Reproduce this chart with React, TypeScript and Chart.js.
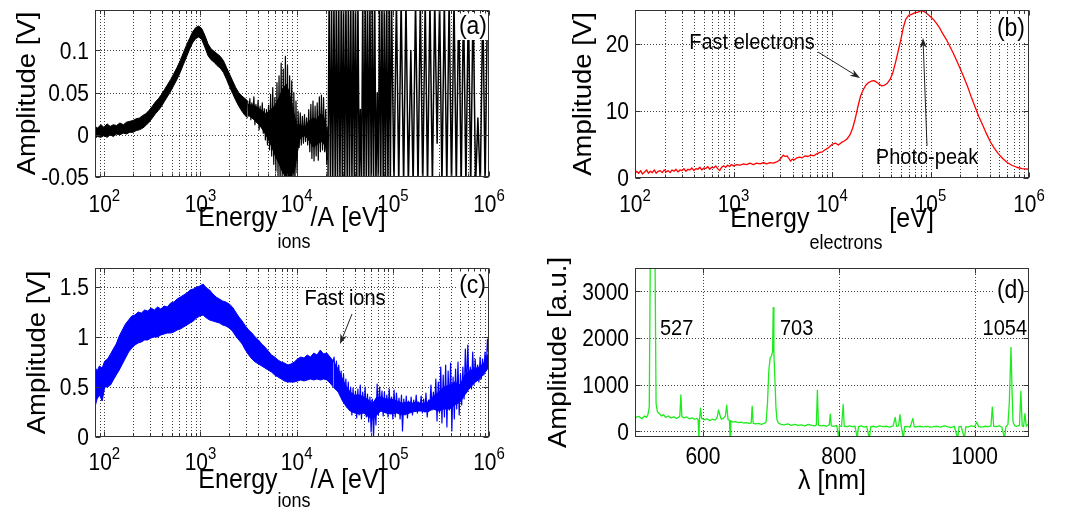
import React, { useEffect, useRef } from "react";
import { Chart, registerables } from "chart.js";

Chart.register(...registerables);

const FONT = '"Liberation Sans", Arimo, Arial, Helvetica, sans-serif';
const GRID_COLOR = "rgba(30,30,30,0.85)";
const FRAME_COLOR = "#333";
const TICK_PX = 21;
const SUP_PX = 15;
const TITLE_PX = 25;
const SUBTITLE_PX = 18;
const NOTE_PX = 20;
const LETTER_PX = 23;
const VSTRETCH = 1.1;

// ---------------- panel (a): ion spectrum, [E, upper, lower] ----------------
const aBand: number[][] = [
  [80, 0.010, -0.004], [85, 0.008, -0.002], [92, 0.012, -0.003], [99, 0.009, -0.001],
  [107, 0.013, -0.003], [115, 0.010, 0.000], [124, 0.012, -0.002], [134, 0.011, 0.001],
  [145, 0.014, 0.000], [158, 0.012, 0.002], [170, 0.015, 0.001], [184, 0.016, 0.003],
  [199, 0.017, 0.003], [214, 0.019, 0.005], [232, 0.020, 0.006], [251, 0.023, 0.008],
  [270, 0.025, 0.011], [292, 0.029, 0.015], [316, 0.034, 0.020], [340, 0.039, 0.025],
  [366, 0.043, 0.029], [394, 0.048, 0.034], [424, 0.054, 0.040], [457, 0.060, 0.046],
  [492, 0.066, 0.052], [530, 0.073, 0.059], [571, 0.080, 0.066], [615, 0.088, 0.074],
  [662, 0.097, 0.083], [713, 0.106, 0.092], [768, 0.114, 0.101], [827, 0.122, 0.109],
  [890, 0.127, 0.114], [958, 0.129, 0.116], [1031, 0.126, 0.113], [1110, 0.118, 0.104],
  [1196, 0.108, 0.094], [1287, 0.102, 0.089], [1386, 0.099, 0.086], [1492, 0.096, 0.082],
  [1607, 0.093, 0.079], [1730, 0.088, 0.074], [1862, 0.080, 0.066], [2005, 0.072, 0.057],
  [2159, 0.064, 0.049], [2325, 0.056, 0.041], [2503, 0.050, 0.034], [2695, 0.046, 0.028],
  [2902, 0.043, 0.023], [3100, 0.040, 0.020],
];
// dense core of the noisy part [E, upper, lower]
const aNoiseCore: number[][] = [
  [3100, 0.036, 0.024], [3600, 0.035, 0.018], [4200, 0.030, 0.010], [4800, 0.025, 0.000],
  [5400, 0.030, -0.012], [6000, 0.035, -0.025], [6600, 0.045, -0.035], [7200, 0.055, -0.045],
  [7800, 0.060, -0.050], [8400, 0.050, -0.050], [9000, 0.035, -0.050], [9600, 0.020, -0.040],
  [10200, 0.010, -0.020], [10800, 0.012, -0.005], [11500, 0.010, -0.002], [12300, 0.010, -0.001],
  [13100, 0.015, -0.005], [14000, 0.018, -0.010], [15000, 0.020, -0.015], [16000, 0.018, -0.012],
  [17000, 0.022, -0.010], [18000, 0.025, -0.008], [19000, 0.022, -0.010], [20000, 0.012, -0.015],
  [21000, 0.000, -0.030],
];
const aNoise: number[][] = [
  [3100, 0.040], [3180, 0.022], [3260, 0.043], [3340, 0.018], [3420, 0.038], [3500, 0.021],
  [3590, 0.045], [3680, 0.012], [3770, 0.036], [3870, 0.015], [3970, 0.041], [4070, 0.006],
  [4170, 0.034], [4280, 0.010], [4390, 0.038], [4500, 0.002], [4610, 0.031], [4730, -0.006],
  [4850, 0.030], [4970, -0.012], [5100, 0.035], [5230, -0.018], [5360, 0.048], [5500, -0.025],
  [5640, 0.056], [5780, -0.035], [5930, 0.044], [6080, -0.043], [6240, 0.062], [6400, -0.05],
  [6560, 0.070], [6730, -0.06], [6900, 0.085], [7080, -0.06], [7260, 0.078], [7450, -0.06],
  [7640, 0.093], [7830, -0.06], [8030, 0.082], [8240, -0.06], [8450, 0.070], [8670, -0.06],
  [8890, 0.064], [9120, -0.06], [9350, 0.050], [9590, -0.06], [9840, 0.040], [10100, -0.045],
  [10350, 0.028], [10620, -0.015], [10900, 0.026], [11180, -0.012], [11470, 0.022], [11760, -0.010],
  [12060, 0.024], [12370, -0.008], [12690, 0.020], [13020, -0.012], [13350, 0.030], [13700, -0.020],
  [14050, 0.036], [14410, -0.028], [14780, 0.040], [15160, -0.031], [15550, 0.034], [15950, -0.025],
  [16360, 0.038], [16780, -0.030], [17210, 0.045], [17650, -0.020], [18100, 0.047], [18570, -0.018],
  [19050, 0.044], [19540, -0.020], [20040, 0.030], [20550, -0.035], [21080, 0.010],
];
const aSpikes: number[][] = [
  [21150, -0.06], [21760, 0.16], [22450, -0.06], [23060, 0.16], [23730, -0.06], [24420, 0.16],
  [25190, -0.06], [25860, 0.16], [26620, -0.06], [27390, 0.16], [28190, -0.06], [29080, 0.16],
  [29860, -0.06], [30730, 0.16], [31620, -0.06], [32540, 0.16], [33570, -0.06], [34470, 0.16],
  [35470, -0.06], [36510, 0.16], [37570, -0.06], [38760, 0.16], [39790, -0.06], [40950, 0.16],
  [42140, -0.06], [43370, 0.16], [44740, -0.06], [45940, 0.03], [47270, -0.06], [48650, 0.16],
  [50070, -0.06], [51650, 0.16], [53030, -0.06], [54580, 0.16], [56170, -0.06], [57810, 0.16],
  [59630, -0.06], [61220, 0.16], [63010, -0.06], [64850, 0.16], [66730, -0.06], [68840, 0.05],
  [70680, -0.06], [72730, 0.16], [74850, -0.06], [77030, 0.16], [79460, -0.06], [81580, 0.16],
  [83960, -0.06], [86410, 0.16], [88930, -0.06], [91740, 0.16], [94190, -0.06], [96940, 0.16],
  [102700, -0.06], [109000, 0.16], [115200, -0.06], [122000, 0.16], [129500, -0.06], [136900, 0.16],
  [145000, -0.06], [153900, 0.10], [162600, -0.06], [172200, 0.16], [182800, -0.06], [193200, 0.16],
  [204600, -0.06], [217200, 0.16], [229500, -0.06], [243100, 0.16], [258000, -0.06], [272700, 0.16],
  [288800, -0.01], [306600, 0.16], [324000, -0.06], [343100, 0.16], [364200, -0.06], [384800, 0.16],
  [407600, -0.06], [432700, 0.16], [457200, -0.06], [484200, 0.16], [514000, -0.06], [543100, 0.16],
  [575200, -0.06], [610600, 0.16], [645200, -0.06], [683300, 0.16], [725400, -0.06], [766500, 0.02],
  [811900, -0.06], [861900, 0.16], [911000, -0.06], [964700, 0.16],
];

// ---------------- panel (b): electron spectrum [E, V] ----------------
const bCurve: number[][] = [
  [100, 0.6], [104, 1.0], [109, 0.7], [114, 1.1], [119, 0.6], [125, 0.9], [131, 1.2], [137, 0.7],
  [143, 1.0], [150, 0.8], [157, 1.2], [164, 0.7], [172, 1.0], [180, 1.1], [189, 0.8], [198, 1.2],
  [207, 0.9], [217, 1.1], [227, 0.8], [238, 1.2], [249, 1.0], [261, 1.3], [273, 0.9], [286, 1.2],
  [300, 1.1], [314, 1.4], [329, 1.0], [345, 1.3], [361, 1.2], [378, 1.5], [396, 1.1], [415, 1.4],
  [435, 1.3], [455, 1.6], [477, 1.2], [500, 1.5], [523, 1.4], [548, 1.7], [574, 1.3], [601, 1.6],
  [630, 1.5], [660, 1.8], [691, 1.4], [724, 1.1], [758, 1.6], [794, 1.8], [832, 1.6], [871, 1.9],
  [912, 1.7], [955, 2.0], [1000, 1.8], [1080, 2.0], [1170, 1.9], [1260, 2.1], [1360, 2.0], [1470, 2.2],
  [1590, 2.0], [1720, 2.2], [1860, 2.1], [2010, 2.3], [2170, 2.1], [2350, 2.3], [2540, 2.2], [2740, 2.4],
  [2900, 2.6], [3050, 3.0], [3200, 3.4], [3350, 3.2], [3500, 3.3], [3650, 2.9], [3800, 2.5], [3950, 2.8],
  [4150, 2.7], [4400, 3.0], [4700, 3.1], [5000, 3.0], [5350, 3.3], [5700, 3.2], [6100, 3.4], [6550, 3.3],
  [7000, 3.6], [7500, 3.8], [8000, 3.9], [8500, 4.2], [9000, 4.4], [9500, 4.7], [10000, 5.0], [10800, 5.2],
  [11600, 4.9], [12500, 5.3], [13300, 5.5], [14200, 5.8], [15200, 6.4], [16200, 7.4], [17200, 8.8],
  [18300, 10.6], [19500, 12.2], [20700, 13.1], [22000, 13.8], [23500, 14.2], [25000, 14.4], [26600, 14.5],
  [28200, 14.3], [30000, 14.0], [32000, 13.7], [34000, 13.8], [36500, 14.1], [39000, 14.7], [41500, 15.7],
  [44000, 17.1], [47000, 18.9], [50000, 20.6], [53000, 22.4], [56000, 23.6], [60000, 24.2], [65000, 24.4],
  [70000, 24.6], [75000, 24.7], [80000, 24.9], [85000, 24.8], [90000, 24.6], [95000, 24.3], [100000, 24.0],
  [107000, 23.6], [115000, 23.0], [124000, 22.3], [134000, 21.4], [145000, 20.6], [157000, 19.6],
  [170000, 18.6], [185000, 17.4], [200000, 16.3], [218000, 15.0], [238000, 13.6], [260000, 12.0],
  [285000, 10.5], [310000, 9.1], [340000, 7.8], [370000, 6.6], [405000, 5.4], [445000, 4.4], [490000, 3.6],
  [540000, 2.9], [600000, 2.3], [670000, 1.9], [750000, 1.6], [850000, 1.4], [1000000, 1.3],
];

// ---------------- panel (c): fast ions [E, upper, lower] then noisy tail ----------------
const cBand: number[][] = [
  [80, 0.70, 0.30], [84, 0.66, 0.38], [89, 0.71, 0.42], [95, 0.69, 0.36], [101, 0.76, 0.50],
  [108, 0.78, 0.50], [116, 0.83, 0.52], [124, 0.88, 0.57], [133, 0.93, 0.62], [143, 1.01, 0.67],
  [154, 1.07, 0.73], [166, 1.13, 0.79], [179, 1.17, 0.85], [193, 1.21, 0.89], [208, 1.22, 0.92],
  [225, 1.25, 0.94], [243, 1.24, 0.95], [262, 1.27, 0.97], [283, 1.26, 0.97], [306, 1.29, 0.99],
  [331, 1.27, 1.00], [358, 1.30, 1.00], [387, 1.28, 1.02], [418, 1.31, 1.03], [452, 1.30, 1.04],
  [489, 1.34, 1.04], [529, 1.35, 1.05], [572, 1.38, 1.07], [618, 1.40, 1.08], [668, 1.42, 1.10],
  [722, 1.44, 1.12], [780, 1.47, 1.14], [843, 1.48, 1.16], [911, 1.50, 1.19], [985, 1.51, 1.21],
  [1065, 1.53, 1.22], [1151, 1.49, 1.19], [1244, 1.47, 1.17], [1345, 1.43, 1.16], [1454, 1.40, 1.15],
  [1572, 1.38, 1.14], [1699, 1.36, 1.12], [1837, 1.35, 1.11], [1986, 1.33, 1.09], [2147, 1.30, 1.06],
  [2321, 1.25, 1.01], [2509, 1.20, 0.97], [2712, 1.16, 0.93], [2932, 1.11, 0.87], [3170, 1.07, 0.82],
  [3427, 1.04, 0.78], [3705, 1.00, 0.75], [4005, 0.97, 0.73], [4330, 0.93, 0.71], [4681, 0.90, 0.69],
  [5060, 0.86, 0.67], [5470, 0.82, 0.65], [5914, 0.80, 0.62], [6393, 0.77, 0.60], [6911, 0.75, 0.58],
  [7471, 0.74, 0.56], [8077, 0.72, 0.55], [8732, 0.73, 0.55], [9440, 0.75, 0.55], [10205, 0.78, 0.56],
  [11032, 0.80, 0.57], [11926, 0.79, 0.56], [12893, 0.82, 0.57], [13938, 0.80, 0.58], [15068, 0.84, 0.57],
  [16289, 0.82, 0.58], [17609, 0.87, 0.57], [19036, 0.83, 0.58], [20580, 0.84, 0.57], [22248, 0.80, 0.54],
  [24051, 0.76, 0.50],
];
const cTailCore: number[][] = [
  [24051, 0.76, 0.50], [27000, 0.68, 0.45], [30000, 0.58, 0.36], [33000, 0.50, 0.30], [36000, 0.45, 0.26],
  [40000, 0.42, 0.24], [45000, 0.42, 0.23], [50000, 0.40, 0.24], [56000, 0.37, 0.20], [62000, 0.34, 0.18],
  [68000, 0.40, 0.22], [75000, 0.40, 0.26], [85000, 0.38, 0.24], [95000, 0.38, 0.23], [110000, 0.36, 0.24],
  [125000, 0.34, 0.22], [140000, 0.35, 0.23], [160000, 0.34, 0.25], [180000, 0.35, 0.26], [200000, 0.33, 0.26],
  [230000, 0.35, 0.25], [260000, 0.40, 0.28], [300000, 0.45, 0.26], [340000, 0.50, 0.28], [390000, 0.52, 0.28],
  [440000, 0.55, 0.32], [500000, 0.52, 0.35], [560000, 0.62, 0.42], [620000, 0.66, 0.48], [700000, 0.68, 0.54],
  [800000, 0.70, 0.58], [900000, 0.75, 0.64], [1000000, 0.85, 0.70],
];
const cNoise: number[][] = [
  [24051, 0.76], [24500, 0.80], [25200, 0.56], [25900, 0.76], [26600, 0.52], [27400, 0.72], [28200, 0.47],
  [29000, 0.66], [29800, 0.40], [30700, 0.63], [31600, 0.36], [32500, 0.58], [33400, 0.30], [34400, 0.55],
  [35400, 0.27], [36400, 0.50], [37500, 0.22], [38600, 0.49], [39700, 0.25], [40900, 0.46], [42100, 0.19],
  [43300, 0.48], [44600, 0.22], [45900, 0.52], [47200, 0.18], [48600, 0.45], [50000, 0.24], [51500, 0.50],
  [53000, 0.20], [54500, 0.43], [56100, 0.15], [57800, 0.40], [59500, 0.05], [61200, 0.38], [63000, 0.00],
  [64800, 0.35], [66700, 0.12], [68700, 0.53], [70700, 0.22], [72800, 0.50], [74900, 0.26], [77100, 0.46],
  [79400, 0.21], [81700, 0.45], [84100, 0.25], [86600, 0.42], [89100, 0.20], [91700, 0.48], [94400, 0.24],
  [97200, 0.40], [100000, 0.18], [103000, 0.47], [106000, 0.20], [109000, 0.44], [112000, 0.26],
  [116000, 0.39], [119000, 0.18], [123000, 0.42], [126000, 0.06], [130000, 0.38], [134000, 0.22],
  [138000, 0.41], [142000, 0.19], [146000, 0.36], [151000, 0.25], [155000, 0.40], [160000, 0.22],
  [165000, 0.37], [170000, 0.26], [175000, 0.42], [180000, 0.24], [185000, 0.35], [191000, 0.27],
  [197000, 0.41], [203000, 0.24], [209000, 0.38], [215000, 0.25], [221000, 0.44], [228000, 0.20],
  [235000, 0.37], [242000, 0.28], [249000, 0.52], [256000, 0.27], [264000, 0.45], [272000, 0.30],
  [280000, 0.58], [288000, 0.16], [297000, 0.55], [306000, 0.24], [315000, 0.70], [324000, 0.14],
  [334000, 0.62], [344000, 0.20], [354000, 0.72], [365000, 0.10], [376000, 0.66], [387000, 0.27],
  [399000, 0.74], [411000, 0.06], [423000, 0.60], [436000, 0.18], [449000, 0.68], [462000, 0.28],
  [476000, 0.75], [490000, 0.22], [505000, 0.63], [520000, 0.32], [535000, 0.70], [551000, 0.38],
  [568000, 0.88], [585000, 0.45], [602000, 0.92], [620000, 0.50], [639000, 0.70], [658000, 0.48],
  [677000, 0.85], [698000, 0.52], [718000, 0.78], [740000, 0.58], [762000, 0.72], [785000, 0.55],
  [808000, 0.80], [832000, 0.58], [857000, 0.78], [883000, 0.62], [909000, 0.85], [936000, 0.70],
  [964000, 0.98], [985000, 0.85], [1000000, 1.12],
];

// ---------------- panel (d): optical spectrum [nm, a.u.] ----------------
const dSpectrum: number[][] = [
  [500, 290], [503, 310], [506, 320], [510, 270], [514, 330], [517, 300], [519, 360], [521, 520],
  [522.5, 3700], [529.5, 3700], [531, 600], [533, 420], [536, 380], [539, 330], [542, 360], [545, 300],
  [549, 330], [553, 290], [557, 310], [561, 280], [564, 300], [566, 330], [567.5, 780], [569, 320],
  [572, 290], [576, 310], [580, 270], [584, 290], [588, 260], [591, 280], [593, 240], [594, -150],
  [595, 260], [596.5, 500], [598, 280], [602, 250], [606, 270], [610, 230], [614, 260], [618, 240],
  [621, 300], [623, 460], [625, 350], [627, 260], [630, 280], [633, 330], [635, 560], [637, 250],
  [639, 240], [640, -150], [641, 230], [644, 200], [648, 210], [652, 190], [656, 200], [660, 180],
  [664, 190], [668, 170], [671, 180], [672.5, 540], [674, 170], [678, 160], [682, 170], [686, 150],
  [690, 170], [693, 200], [695, 600], [697, 1300], [699, 1580], [701, 1620], [702.5, 1700], [703.5, 2650],
  [704.5, 1650], [706, 1100], [707.5, 500], [709, 250], [711, 180], [715, 150], [720, 140], [725, 160],
  [730, 130], [735, 150], [740, 130], [745, 140], [750, 120], [755, 150], [760, 130], [765, 120],
  [767, 140], [768.5, 880], [770, 130], [774, 120], [778, 130], [782, 110], [786, 140], [787.5, 370],
  [789, 120], [793, 110], [797, 130], [800, -150], [801, 120], [804, 110], [806.5, 580], [808, 110],
  [812, 100], [816, 120], [820, 100], [824, 110], [827, -150], [829, 100], [833, 120], [837, 90],
  [841, 110], [845, -150], [847, 100], [851, 110], [855, 90], [860, 120], [865, 100], [870, 110],
  [875, 90], [880, 120], [883, 300], [885, 110], [888, 120], [890, 360], [892, 100], [895, -150],
  [897, 100], [900, 110], [905, 90], [909, 280], [911, 100], [915, 100], [920, 110], [925, 95],
  [930, 110], [935, 90], [940, 100], [945, 110], [950, 90], [955, 120], [960, 100], [965, 80],
  [970, 110], [975, -150], [977, 100], [980, 110], [985, -150], [987, 100], [990, 90], [995, 120],
  [1000, 100], [1003, 200], [1006, 100], [1010, 90], [1015, 110], [1020, 100], [1024, 120], [1026, 520],
  [1028, 110], [1032, 100], [1036, 120], [1040, 90], [1044, -150], [1046, 100], [1049, 150], [1051, 600],
  [1053.5, 1800], [1055, 900], [1056.5, 200], [1059, 120], [1062, 110], [1066, 130], [1068, 860],
  [1070, 120], [1072, 100], [1074, 380], [1076, 110], [1080, 170],
];

// ---------------- ticks ----------------
const logExponents = [2, 3, 4, 5, 6];
const aYTicks = [-0.05, 0, 0.05, 0.1];
const aYLabels = ["-0.05", "0", "0.05", "0.1"];
const bYTicks = [0, 10, 20];
const bYLabels = ["0", "10", "20"];
const cYTicks = [0, 0.5, 1, 1.5];
const cYLabels = ["0", "0.5", "1", "1.5"];
const dYTicks = [0, 1000, 2000, 3000];
const dYLabels = ["0", "1000", "2000", "3000"];
const dXTicks = [600, 800, 1000];
const dXLabels = ["600", "800", "1000"];

function minorLogGrid(min: number, max: number): number[] {
  const out: number[] = [];
  for (let e = Math.floor(Math.log10(min)); e <= Math.ceil(Math.log10(max)); e++) {
    for (let k = 1; k <= 9; k++) {
      const v = k * Math.pow(10, e);
      if (v > min * 1.0001 && v < max * 0.9999) out.push(v);
    }
  }
  return out;
}

const pts = (rows: number[][], col = 1) => rows.map((r) => ({ x: r[0], y: r[col] }));

type Part = { t: string; sub?: boolean };
type Note = { text: string; x: number; y: number; align: CanvasTextAlign };
type Spec = {
  key: string;
  box: [number, number, number, number];
  pad: { left: number; top: number; right: number; bottom: number };
  xLog: boolean;
  xMin: number; xMax: number; yMin: number; yMax: number;
  xTickVals: number[]; xTickLabels: string[]; xGrid: number[]; xMinor: number[];
  yTickVals: number[]; yTickLabels: string[];
  xLabelBase: number;
  yTitle: string; yTitleX: number;
  xTitle: Part[]; xTitleBase: number; subDrop: number;
  letter: string; letterRight: number; letterMid: number;
  notes: Note[];
  arrows: number[][];
  makeDatasets: () => any[];
};

const line = (data: any[], color: string, width = 1, extra: any = {}) => ({
  data, borderColor: color, borderWidth: width, pointRadius: 0, fill: false,
  tension: 0, borderJoinStyle: "round", ...extra,
});

const SPECS: Spec[] = [
  {
    key: "a", box: [0, 0, 541, 256], pad: { left: 95, top: 10, right: 52, bottom: 79 },
    xLog: true, xMin: 80, xMax: 1e6, yMin: -0.05, yMax: 0.148,
    xTickVals: logExponents.map((e) => Math.pow(10, e)), xTickLabels: logExponents.map(String),
    xGrid: minorLogGrid(80, 1e6), xMinor: minorLogGrid(80, 1e6),
    yTickVals: aYTicks, yTickLabels: aYLabels, xLabelBase: 35,
    yTitle: "Amplitude [V]", yTitleX: 35,
    xTitle: [{ t: "Energy" }, { t: "ions", sub: true }, { t: "/A [eV]" }], xTitleBase: 49, subDrop: 22,
    letter: "(a)", letterRight: 487, letterMid: 26,
    notes: [], arrows: [],
    makeDatasets: () => [
      line(pts(aBand, 1), "#000"),
      line(pts(aBand, 2), "#000", 1, { fill: "-1", backgroundColor: "#000" }),
      line(pts(aNoiseCore, 1), "#000"),
      line(pts(aNoiseCore, 2), "#000", 1, { fill: "-1", backgroundColor: "#000" }),
      line(pts(aNoise), "#000", 1.2),
      line(pts(aSpikes), "#000", 1.5),
    ],
  },
  {
    key: "b", box: [541, 0, 542, 256], pad: { left: 94, top: 10, right: 54, bottom: 78 },
    xLog: true, xMin: 100, xMax: 1e6, yMin: 0, yMax: 25,
    xTickVals: logExponents.map((e) => Math.pow(10, e)), xTickLabels: logExponents.map(String),
    xGrid: minorLogGrid(100, 1e6), xMinor: minorLogGrid(100, 1e6),
    yTickVals: bYTicks, yTickLabels: bYLabels, xLabelBase: 34,
    yTitle: "Amplitude [V]", yTitleX: 591,
    xTitle: [{ t: "Energy" }, { t: "electrons", sub: true }, { t: " [eV]" }], xTitleBase: 49, subDrop: 22,
    letter: "(b)", letterRight: 1025, letterMid: 28,
    notes: [
      { text: "Fast electrons", x: 752, y: 49, align: "center" },
      { text: "Photo-peak", x: 927, y: 164, align: "center" },
    ],
    arrows: [[818, 52, 860, 78], [927, 146, 923, 38]],
    makeDatasets: () => [line(pts(bCurve), "#ff0000", 1.3)],
  },
  {
    key: "c", box: [0, 256, 541, 257], pad: { left: 95, top: 12, right: 52, bottom: 76 },
    xLog: true, xMin: 80, xMax: 1e6, yMin: 0, yMax: 1.69,
    xTickVals: logExponents.map((e) => Math.pow(10, e)), xTickLabels: logExponents.map(String),
    xGrid: minorLogGrid(80, 1e6), xMinor: minorLogGrid(80, 1e6),
    yTickVals: cYTicks, yTickLabels: cYLabels, xLabelBase: 33,
    yTitle: "Amplitude [V]", yTitleX: 45,
    xTitle: [{ t: "Energy" }, { t: "ions", sub: true }, { t: "/A [eV]" }], xTitleBase: 51, subDrop: 19,
    letter: "(c)", letterRight: 486, letterMid: 285,
    notes: [{ text: "Fast ions", x: 345, y: 305, align: "center" }],
    arrows: [[352, 314, 340, 344]],
    makeDatasets: () => [
      line(pts(cBand, 1), "#0000ff"),
      line(pts(cBand, 2), "#0000ff", 1, { fill: "-1", backgroundColor: "#0000ff" }),
      line(pts(cTailCore, 1), "#0000ff"),
      line(pts(cTailCore, 2), "#0000ff", 1, { fill: "-1", backgroundColor: "#0000ff" }),
      line(pts(cNoise), "#0000ff", 1.2),
    ],
  },
  {
    key: "d", box: [541, 256, 542, 257], pad: { left: 94, top: 12, right: 54, bottom: 76 },
    xLog: false, xMin: 500, xMax: 1080, yMin: -120, yMax: 3500,
    xTickVals: dXTicks, xTickLabels: dXLabels, xGrid: dXTicks, xMinor: [],
    yTickVals: dYTicks, yTickLabels: dYLabels, xLabelBase: 27,
    yTitle: "Amplitude [a.u.]", yTitleX: 566,
    xTitle: [{ t: "\u03bb [nm]" }], xTitleBase: 52, subDrop: 0,
    letter: "(d)", letterRight: 1025, letterMid: 290,
    notes: [
      { text: "527", x: 660, y: 335, align: "left" },
      { text: "703", x: 780, y: 335, align: "left" },
      { text: "1054", x: 1027, y: 335, align: "right" },
    ],
    arrows: [],
    makeDatasets: () => [line(pts(dSpectrum), "rgb(30,235,30)", 1.3)],
  },
];

function makeDecor(spec: Spec) {
  const font = (px: number) => `${px}px ${FONT}`;
  // draw text stretched vertically around its baseline point
  const put = (ctx: any, s: string, x: number, y: number) => {
    ctx.save();
    ctx.translate(x, y);
    ctx.scale(1, VSTRETCH);
    ctx.fillText(s, 0, 0);
    ctx.restore();
  };
  return {
    id: "decor_" + spec.key,
    beforeDatasetsDraw(chart: any) {
      const { ctx, chartArea: ca, scales } = chart;
      const xs = scales.x;
      const ys = scales.y;
      ctx.save();
      ctx.strokeStyle = GRID_COLOR;
      ctx.lineWidth = 1;
      ctx.setLineDash([1, 2]);
      ctx.beginPath();
      for (const v of spec.xGrid) {
        const px = Math.round(xs.getPixelForValue(v)) + 0.5;
        if (px <= ca.left + 1 || px >= ca.right - 1) continue;
        ctx.moveTo(px, ca.top);
        ctx.lineTo(px, ca.bottom);
      }
      for (const v of spec.yTickVals) {
        const py = Math.round(ys.getPixelForValue(v)) + 0.5;
        if (py <= ca.top + 1 || py >= ca.bottom - 1) continue;
        ctx.moveTo(ca.left, py);
        ctx.lineTo(ca.right, py);
      }
      ctx.stroke();
      ctx.restore();
    },
    afterDraw(chart: any) {
      const { ctx, chartArea: ca, scales } = chart;
      const xs = scales.x;
      const ys = scales.y;
      const ox = spec.box[0];
      const oy = spec.box[1];
      ctx.save();
      ctx.setLineDash([]);
      ctx.textBaseline = "alphabetic";

      // panel letter with white background
      ctx.font = font(LETTER_PX);
      const lw = ctx.measureText(spec.letter).width;
      const lx = spec.letterRight - ox - lw;
      const ly = spec.letterMid - oy;
      ctx.fillStyle = "#fff";
      ctx.fillRect(lx - 2, ly - 14, lw + 4, 28);
      ctx.fillStyle = "#000";
      ctx.textAlign = "left";
      put(ctx, spec.letter, lx, ly + 8);

      // frame
      const L = Math.round(ca.left) + 0.5;
      const T = Math.round(ca.top) + 0.5;
      const R = Math.round(ca.right) - 0.5;
      const B = Math.round(ca.bottom) - 0.5;
      ctx.strokeStyle = FRAME_COLOR;
      ctx.lineWidth = 1;
      ctx.strokeRect(L, T, R - L, B - T);

      // tick marks (inward, all four sides)
      ctx.beginPath();
      for (const v of spec.xTickVals) {
        const px = Math.round(xs.getPixelForValue(v)) + 0.5;
        ctx.moveTo(px, B); ctx.lineTo(px, B - 5);
        ctx.moveTo(px, T); ctx.lineTo(px, T + 5);
      }
      for (const v of spec.xMinor) {
        const px = Math.round(xs.getPixelForValue(v)) + 0.5;
        ctx.moveTo(px, B); ctx.lineTo(px, B - 3);
        ctx.moveTo(px, T); ctx.lineTo(px, T + 3);
      }
      for (const v of spec.yTickVals) {
        const py = Math.round(ys.getPixelForValue(v)) + 0.5;
        ctx.moveTo(L, py); ctx.lineTo(L + 5, py);
        ctx.moveTo(R, py); ctx.lineTo(R - 5, py);
      }
      ctx.stroke();

      ctx.fillStyle = "#000";
      // y tick labels
      ctx.font = font(TICK_PX);
      ctx.textAlign = "right";
      spec.yTickVals.forEach((v, i) => {
        const py = ys.getPixelForValue(v);
        put(ctx, spec.yTickLabels[i], ca.left - 6, py + TICK_PX * 0.36 * VSTRETCH);
      });

      // x tick labels
      const xb = ca.bottom + spec.xLabelBase;
      spec.xTickVals.forEach((v, i) => {
        const px = xs.getPixelForValue(v);
        if (spec.xLog) {
          ctx.font = font(TICK_PX);
          const w1 = ctx.measureText("10").width;
          ctx.font = font(SUP_PX);
          const w2 = ctx.measureText(spec.xTickLabels[i]).width;
          const start = px - (w1 + w2) / 2;
          ctx.textAlign = "left";
          ctx.font = font(TICK_PX);
          put(ctx, "10", start, xb);
          ctx.font = font(SUP_PX);
          put(ctx, spec.xTickLabels[i], start + w1, xb - 11);
        } else {
          ctx.font = font(TICK_PX);
          ctx.textAlign = "center";
          put(ctx, spec.xTickLabels[i], px, xb);
        }
      });

      // x title with subscripts
      let total = 0;
      const widths = spec.xTitle.map((p) => {
        ctx.font = font(p.sub ? SUBTITLE_PX : TITLE_PX);
        const w = ctx.measureText(p.t).width;
        total += w;
        return w;
      });
      let cx = (ca.left + ca.right) / 2 - total / 2;
      const tb = ca.bottom + spec.xTitleBase;
      ctx.textAlign = "left";
      spec.xTitle.forEach((p, i) => {
        ctx.font = font(p.sub ? SUBTITLE_PX : TITLE_PX);
        put(ctx, p.t, cx, p.sub ? tb + spec.subDrop : tb);
        cx += widths[i];
      });

      // y title (rotated), stretched along its length
      ctx.save();
      ctx.translate(spec.yTitleX - ox, (ca.top + ca.bottom) / 2);
      ctx.rotate(-Math.PI / 2);
      ctx.scale(VSTRETCH, 1);
      ctx.font = font(TITLE_PX);
      ctx.textAlign = "center";
      ctx.fillText(spec.yTitle, 0, 0);
      ctx.restore();

      // notes
      ctx.font = font(NOTE_PX);
      for (const n of spec.notes) {
        ctx.textAlign = n.align;
        put(ctx, n.text, n.x - ox, n.y - oy);
      }

      // arrows
      for (const a of spec.arrows) {
        const x1 = a[0] - ox, y1 = a[1] - oy, x2 = a[2] - ox, y2 = a[3] - oy;
        const ang = Math.atan2(y2 - y1, x2 - x1);
        const hl = 10, hw = 3.5;
        ctx.strokeStyle = "#222";
        ctx.lineWidth = 1;
        ctx.beginPath();
        ctx.moveTo(x1, y1);
        ctx.lineTo(x2 - Math.cos(ang) * hl * 0.7, y2 - Math.sin(ang) * hl * 0.7);
        ctx.stroke();
        ctx.fillStyle = "#222";
        ctx.beginPath();
        ctx.moveTo(x2, y2);
        ctx.lineTo(x2 - Math.cos(ang) * hl - Math.sin(ang) * hw, y2 - Math.sin(ang) * hl + Math.cos(ang) * hw);
        ctx.lineTo(x2 - Math.cos(ang) * hl * 0.7, y2 - Math.sin(ang) * hl * 0.7);
        ctx.lineTo(x2 - Math.cos(ang) * hl + Math.sin(ang) * hw, y2 - Math.sin(ang) * hl - Math.cos(ang) * hw);
        ctx.closePath();
        ctx.fill();
      }
      ctx.restore();
    },
  };
}

function PanelChart({ spec }: { spec: Spec }) {
  const ref = useRef<HTMLCanvasElement | null>(null);
  useEffect(() => {
    const canvas = ref.current;
    if (!canvas) return;
    const chart = new Chart(canvas, {
      type: "line",
      data: { datasets: spec.makeDatasets() },
      options: {
        responsive: false,
        animation: false,
        events: [],
        devicePixelRatio: 1,
        layout: { padding: spec.pad },
        plugins: { legend: { display: false }, tooltip: { enabled: false }, title: { display: false } },
        scales: {
          x: {
            type: spec.xLog ? "logarithmic" : "linear",
            min: spec.xMin, max: spec.xMax,
            grid: { display: false }, border: { display: false }, ticks: { display: false },
            afterFit: (s: any) => { s.height = 0; },
          },
          y: {
            type: "linear",
            min: spec.yMin, max: spec.yMax,
            grid: { display: false }, border: { display: false }, ticks: { display: false },
            afterFit: (s: any) => { s.width = 0; },
          },
        },
      } as any,
      plugins: [makeDecor(spec)],
    });
    return () => chart.destroy();
  }, [spec]);
  const [l, t, w, h] = spec.box;
  return (
    <canvas
      ref={ref}
      width={w}
      height={h}
      style={{ position: "absolute", left: l, top: t, width: w, height: h }}
    />
  );
}

export default function App() {
  return (
    <div style={{ position: "fixed", left: 0, top: 0, width: 1083, height: 513, background: "#fff", overflow: "hidden" }}>
      {SPECS.map((s) => (
        <PanelChart key={s.key} spec={s} />
      ))}
    </div>
  );
}
